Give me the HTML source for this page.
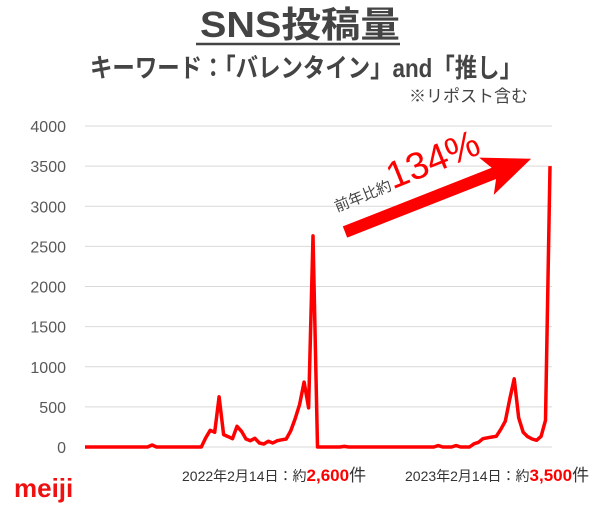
<!DOCTYPE html>
<html><head><meta charset="utf-8">
<style>
body{margin:0;background:#fff;}
svg text{font-family:"Liberation Sans","Noto Sans CJK JP",sans-serif;}
</style></head>
<body>
<svg width="600" height="513" viewBox="0 0 600 513" xmlns="http://www.w3.org/2000/svg">
<text x="300" y="37" text-anchor="middle" font-size="36" font-weight="bold" fill="#444" textLength="200" lengthAdjust="spacingAndGlyphs">SNS投稿量</text>
<line x1="196" y1="44" x2="400" y2="44" stroke="#444" stroke-width="2.5"/>
<text x="306" y="77" text-anchor="middle" font-size="26" font-weight="bold" fill="#444" textLength="432" lengthAdjust="spacingAndGlyphs">キーワード：「バレンタイン」and「推し」</text>
<text x="528" y="102" text-anchor="end" font-size="17" fill="#444">※リポスト含む</text>
<g id="grid"></g>
<g id="yticks"></g>
<polyline id="series" fill="none" stroke="#ff0000" stroke-width="3.5" stroke-linejoin="round"/>
<polygon points="0,-6 160,-6 152,-20 200,0 152,20 160,6 0,6" fill="#ff0000" transform="translate(345,232) rotate(-21.5)"/>
<g transform="translate(337,212) rotate(-22)">
<text x="0" y="0" font-size="15" fill="#444">前年比約</text>
<text x="60" y="0" font-size="38" fill="#ff0000">134%</text>
</g>
<text x="14" y="497" font-size="26" font-weight="bold" fill="#ee1111">meiji</text>
<text x="182" y="481" font-size="14" fill="#333">2022年2月14日：約<tspan fill="#ff0000" font-weight="bold" font-size="17">2,600</tspan><tspan font-size="17">件</tspan></text>
<text x="405" y="481" font-size="14" fill="#333">2023年2月14日：約<tspan fill="#ff0000" font-weight="bold" font-size="17">3,500</tspan><tspan font-size="17">件</tspan></text>
</svg>
<script>
const yTicks=[0,500,1000,1500,2000,2500,3000,3500,4000];
const values=[0,0,0,0,0,0,0,0,0,0,0,0,0,0,0,25,0,0,0,0,0,0,0,0,0,0,0,113,208,183,625,154,130,104,258,196,100,79,108,50,38,71,50,79,90,100,200,350,530,809,488,2630,0,0,0,0,0,0,8,0,0,0,0,0,0,0,0,0,0,0,0,0,0,0,0,0,0,0,0,17,0,0,0,17,0,0,0,40,58,104,115,125,133,220,321,600,850,363,183,130,100,83,133,333,3500];
const NS="http://www.w3.org/2000/svg";
const x0=85,x1=550,yBase=447,yTop=126,vMax=4000;
function xs(i){return x0+i*(x1-x0)/(values.length-1);}
function ys(v){return yBase-(v/vMax)*(yBase-yTop);}
const grid=document.getElementById('grid'),yt=document.getElementById('yticks');
yTicks.forEach(t=>{
 const l=document.createElementNS(NS,'line');
 l.setAttribute('x1',x0);l.setAttribute('x2',552);l.setAttribute('y1',ys(t));l.setAttribute('y2',ys(t));
 l.setAttribute('stroke','#d9d9d9');l.setAttribute('stroke-width','1');
 
 
 grid.appendChild(l);
 const tx=document.createElementNS(NS,'text');
 tx.setAttribute('x',66);tx.setAttribute('y',ys(t)+6);tx.setAttribute('text-anchor','end');
 tx.setAttribute('font-size','16');tx.setAttribute('fill','#595959');
 tx.textContent=t;
 
 
 yt.appendChild(tx);
});
document.getElementById('series').setAttribute('points',values.map((v,i)=>xs(i).toFixed(1)+','+ys(v).toFixed(1)).join(' '));
</script>
</body></html>
